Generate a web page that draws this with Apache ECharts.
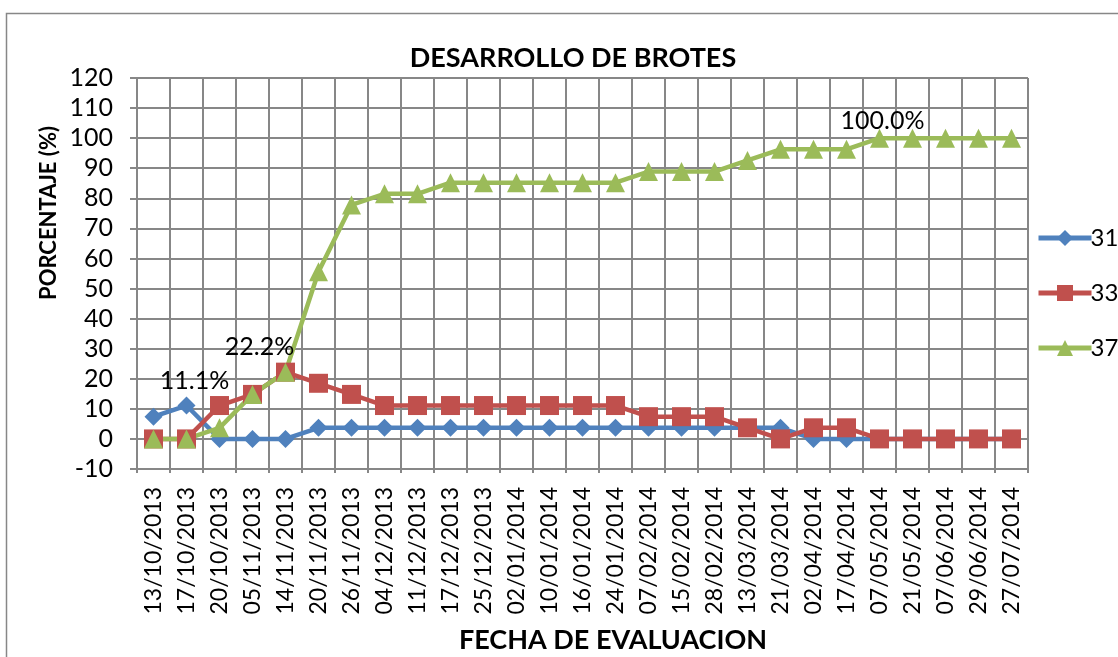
<!DOCTYPE html>
<html>
<head>
<meta charset="utf-8">
<script src="https://cdn.jsdelivr.net/npm/echarts@6/dist/echarts.min.js"></script>
<style>
  html, body { margin: 0; padding: 0; background: #fff; overflow: hidden; }
  #main { width: 1118px; height: 657px; }
</style>
</head>
<body>
<div id="main"></div>
<script>
// fechas de evaluacion
var fechas = ["13/10/2013","17/10/2013","20/10/2013","05/11/2013","14/11/2013","20/11/2013","26/11/2013",
  "04/12/2013","11/12/2013","17/12/2013","25/12/2013","02/01/2014","10/01/2014","16/01/2014","24/01/2014",
  "07/02/2014","15/02/2014","28/02/2014","13/03/2014","21/03/2014","02/04/2014","17/04/2014",
  "07/05/2014","21/05/2014","07/06/2014","29/06/2014","27/07/2014"];

var serie31 = [7.4, 11.1, 0, 0, 0, 3.7, 3.7, 3.7, 3.7, 3.7, 3.7, 3.7, 3.7, 3.7, 3.7,
  3.7, 3.7, 3.7, 3.7, 3.7, 0, 0, 0, 0, 0, 0, 0];
var serie33 = [0, 0, 11.1, 14.8, 22.2, 18.5, 14.8, 11.1, 11.1, 11.1, 11.1, 11.1, 11.1, 11.1, 11.1,
  7.4, 7.4, 7.4, 3.7, 0, 3.7, 3.7, 0, 0, 0, 0, 0];
var serie37 = [0, 0, 3.7, 14.8, 22.2, 55.6, 77.8, 81.5, 81.5, 85.2, 85.2, 85.2, 85.2, 85.2, 85.2,
  88.9, 88.9, 88.9, 92.6, 96.3, 96.3, 96.3, 100, 100, 100, 100, 100];

var yMin = -10, yMax = 120, yStep = 10;

var FONT = 'Lato';
var GRIS = '#878787';

// etiquetas de datos: serie -> {indice: desplazamiento}
function conEtiquetas(valores, etiquetas) {
  return valores.map(function (v, i) {
    if (etiquetas[i] === undefined) return v;
    return {
      value: v,
      label: {
        show: true, position: 'top', offset: etiquetas[i],
        formatter: function (p) { return p.value.toFixed(1) + '%'; },
        fontFamily: FONT, fontSize: 25, color: '#000'
      }
    };
  });
}

function serie(nombre, valores, color, simbolo, tam, etiquetas) {
  return {
    name: nombre,
    type: 'line',
    data: conEtiquetas(valores, etiquetas || {}),
    symbol: simbolo,
    symbolSize: tam,
    showAllSymbol: true,
    lineStyle: { color: color, width: 4.5 },
    itemStyle: { color: color },
    emphasis: { disabled: true },
    animation: false
  };
}

var myChart = echarts.init(document.getElementById('main'));
var option = {
  animation: false,
  title: {
    text: 'DESARROLLO DE BROTES',
    left: 568, top: 40, textAlign: 'center',
    textStyle: { fontFamily: FONT, fontWeight: 'bold', fontSize: 27, color: '#000' }
  },
  graphic: [
    { type: 'rect', shape: { x: 6.5, y: 13.5, width: 1130, height: 700 },
      style: { fill: 'none', stroke: GRIS, lineWidth: 1.5 }, z: -1 },
    { type: 'text', x: 49, y: 213, rotation: Math.PI / 2,
      style: { text: 'PORCENTAJE (%)', fontFamily: FONT, fontWeight: 'bold', fontSize: 22,
        fill: '#000', align: 'center', verticalAlign: 'middle' } },
    { type: 'text', x: 613, y: 640,
      style: { text: 'FECHA DE EVALUACION', fontFamily: FONT, fontWeight: 'bold', fontSize: 27,
        fill: '#000', align: 'center', verticalAlign: 'middle' } }
  ],
  legend: {
    orient: 'vertical', left: 1031, top: 221,
    itemWidth: 53, itemHeight: 20, itemGap: 31,
    lineStyle: { width: 5 },
    textStyle: { fontFamily: FONT, fontSize: 24, color: '#000', padding: [0, 0, 0, -6] },
    data: ['31', '33', '37']
  },
  grid: { left: 137, right: 90, top: 78, bottom: 188 },
  xAxis: {
    type: 'category', data: fechas, boundaryGap: true,
    axisLine: { onZero: false, lineStyle: { color: GRIS, width: 2 } },
    axisTick: { show: true, length: 4, lineStyle: { color: GRIS, width: 2 } },
    splitLine: { show: true, lineStyle: { color: GRIS, width: 2 } },
    axisLabel: { rotate: 90, margin: 18, interval: 0, fontFamily: FONT, fontSize: 23, color: '#000' }
  },
  yAxis: {
    type: 'value', min: yMin, max: yMax, interval: yStep,
    axisLine: { show: true, lineStyle: { color: GRIS, width: 2 } },
    axisTick: { show: true, length: 7, lineStyle: { color: GRIS, width: 2 } },
    splitLine: { show: true, lineStyle: { color: GRIS, width: 2 } },
    axisLabel: { margin: 24, fontFamily: FONT, fontSize: 25, color: '#000' }
  },
  series: [
    serie('31', serie31, '#4F81BD', 'diamond', [18, 18], { 1: [8, 2] }),
    serie('33', serie33, '#C0504D', 'rect', [19, 19]),
    serie('37', serie37, '#9BBB59', 'triangle', [19, 19], { 4: [-26, 2], 22: [3, 10] })
  ]
};
myChart.setOption(option);
</script>
</body>
</html>
